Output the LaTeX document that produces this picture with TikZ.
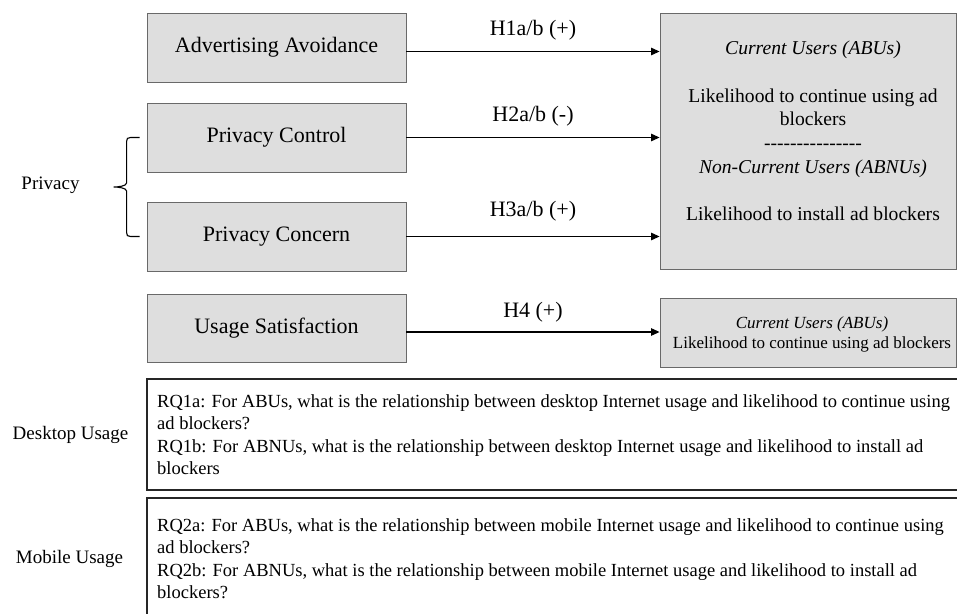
\documentclass[tikz,border=0pt]{standalone}
\usepackage{fontspec}
\setmainfont{Liberation Serif}
\usetikzlibrary{arrows.meta,calc}
\definecolor{boxfill}{RGB}{222,222,222}
\definecolor{boxline}{RGB}{105,105,105}
\newcommand{\fs}[2]{\fontsize{#1}{#2}\selectfont}
\tikzset{
  construct/.style={draw=boxline, fill=boxfill, line width=0.9pt, rectangle,
    minimum width=259pt, minimum height=69pt, inner sep=0pt, font=\fs{22}{26}},
  outcome/.style={draw=boxline, fill=boxfill, line width=0.9pt, rectangle, inner sep=0pt},
  rqbox/.style={draw=black!85, line width=1.6pt, rectangle, inner sep=0pt},
  rqtext/.style={anchor=north west, inner sep=0pt, align=left, font=\fs{18.5}{22.6}},
  sidelabel/.style={inner sep=0pt, font=\fs{19}{23}},
  hyp/.style={inner sep=0pt, font=\fs{22}{26}},
  effect/.style={line width=1.1pt, -{Triangle[length=8.5pt,width=7.5pt]}},
}
\begin{document}
\begin{tikzpicture}[x=1pt,y=-1pt]
\useasboundingbox (0,0) rectangle (957,613);
\clip (0,0) rectangle (957,613);

% predictor constructs
\node[construct] (aa)  at (276.5,47.5)  {Advertising Avoidance};
\node[construct] (pc)  at (276.5,137.5) {Privacy Control};
\node[construct] (pcn) at (276.5,236.5) {Privacy Concern};
\node[construct, minimum height=68pt] (us) at (276.5,328) {Usage Satisfaction};

% outcome boxes
\node[outcome, minimum width=296pt, minimum height=256pt] (out) at (808,141) {};
\node[inner sep=0pt, align=center, font=\fs{19.6}{23.7}] (outtxt) at (813,131)
  {\textit{Current Users (ABUs)}\\ \mbox{}\\ Likelihood to continue using ad\\ blockers\\
   {-}{-}{-}{-}{-}{-}{-}{-}{-}{-}{-}{-}{-}{-}{-}\\
   \textit{Non-Current Users (ABNUs)}\\ \mbox{}\\ Likelihood to install ad blockers};
\node[outcome, minimum width=296pt, minimum height=69pt] (out2) at (808,332.5) {};
\node[inner sep=0pt, align=center, font=\fs{17}{20}] (out2txt) at (812,334)
  {\textit{Current Users (ABUs)}\\ Likelihood to continue using ad blockers};

% hypothesised paths
\draw[effect] ($(aa.east)+(0,4)$) -- ($(aa.east -| out.west)+(0,4)$)
  node[hyp, midway, yshift=21pt] (h1) {H1a/b (+)};
\draw[effect] (pc.east) -- (pc.east -| out.west)
  node[hyp, midway, yshift=21pt] (h2) {H2a/b (-)};
\draw[effect] (pcn.east) -- (pcn.east -| out.west)
  node[hyp, midway, yshift=25pt] (h3) {H3a/b (+)};
\draw[effect] ($(us.east)+(0,4)$) -- ($(us.east -| out2.west)+(0,4)$)
  node[hyp, midway, yshift=20pt] (h4) {H4 (+)};

% privacy grouping
\node[sidelabel] (priv) at (50.5,185) {Privacy};
\coordinate (bt) at ($(pc.west)+(-7,0)$);
\coordinate (bb) at ($(pcn.west)+(-7,0)$);
\coordinate (bm) at ($(bt)!0.5!(bb)$);
\draw[line width=1.1pt]
  (bt) -- ++(-9,0) .. controls ++(-3,0) and ++(0,-3) .. ++(-4,4)
  -- ($(bm)+(-13,-4)$) .. controls ++(0,3) and ++(5,0) .. ($(bm)+(-26,0)$)
  .. controls ++(5,0) and ++(0,-3) .. ($(bm)+(-13,4)$)
  -- ($(bb)+(-13,-4)$) .. controls ++(0,3) and ++(-3,0) .. ($(bb)+(-9,0)$) -- (bb);

% research questions
\node[rqbox, minimum width=816pt, minimum height=111pt] (desk) at (555,434.5) {};
\node[rqtext] (deskq) at (157,394)
  {RQ1a: For ABUs, what is the relationship between desktop Internet usage and likelihood to continue using\\
   ad blockers?\\
   RQ1b: For ABNUs, what is the relationship between desktop Internet usage and likelihood to install ad\\
   blockers};
\node[sidelabel] (deskl) at (70.5,435) {Desktop Usage};

\node[rqbox, minimum width=816pt, minimum height=124pt] (mob) at (555,560) {};
\node[rqtext] (mobq) at (157,518)
  {RQ2a: For ABUs, what is the relationship between mobile Internet usage and likelihood to continue using\\
   ad blockers?\\
   RQ2b: For ABNUs, what is the relationship between mobile Internet usage and likelihood to install ad\\
   blockers?};
\node[sidelabel] (mobl) at (69.5,559) {Mobile Usage};
\end{tikzpicture}
\end{document}
